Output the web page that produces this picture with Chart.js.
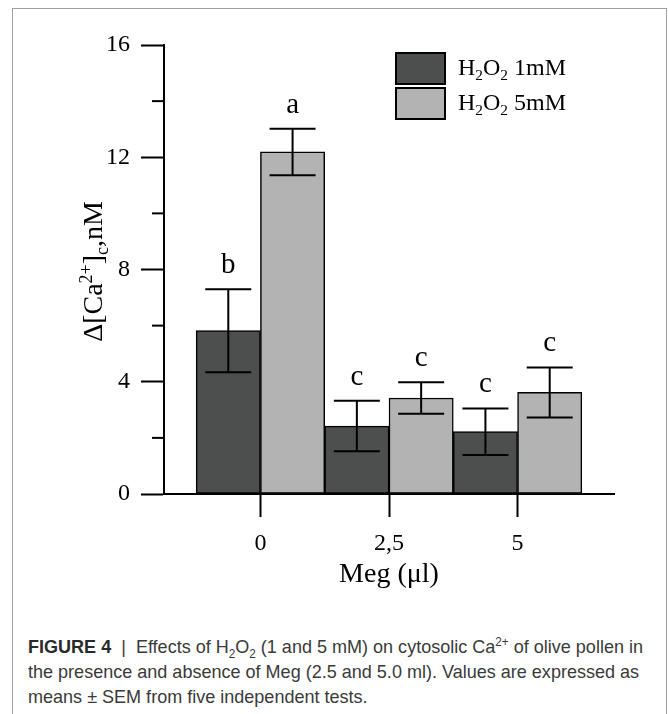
<!DOCTYPE html>
<html><head><meta charset="utf-8">
<script src="https://cdn.jsdelivr.net/npm/chart.js@4"></script>
<style>
html,body{margin:0;padding:0;background:#fff;width:669px;height:714px;overflow:hidden;}
#frame{position:absolute;left:12px;top:8px;width:653px;height:800px;border:1px solid #a0a0a0;border-bottom:none;}
#wrap{position:absolute;left:0;top:0;width:669px;height:620px;}
#cap{position:absolute;left:28px;top:634px;font-family:"Liberation Sans",Arial,sans-serif;font-size:18.5px;line-height:25px;color:#3a3a3a;white-space:nowrap;transform-origin:0 0;}
#cap b{color:#2a2a2a;}
#cap sub,#cap sup{font-size:65%;line-height:0;}
</style></head><body>
<div id="frame"></div>
<div id="wrap"><canvas id="c"></canvas></div>
<div id="cap"><span id="l1"><b>FIGURE 4</b> &nbsp;|&nbsp; Effects of H<sub>2</sub>O<sub>2</sub> (1 and 5 mM) on cytosolic Ca<sup>2+</sup> of olive pollen in</span><br>the presence and absence of Meg (2.5 and 5.0 ml). Values are expressed as<br>means ± SEM from five independent tests.</div>
<script>
const categories = ['0', '2,5', '5'];
const seriesNames = ['H_{2}O_{2} 1mM', 'H_{2}O_{2} 5mM'];
const h2o2_1mM = [5.82, 2.42, 2.22];
const h2o2_5mM = [12.19, 3.42, 3.62];
const sem_1mM = [1.48, 0.90, 0.83];
const sem_5mM = [0.83, 0.56, 0.89];
const letters_1mM = ['b', 'c', 'c'];
const letters_5mM = ['a', 'c', 'c'];
const yMajorTicks = [0, 4, 8, 12, 16];
const yMinorTicks = [2, 6, 10, 14];
const xTitle = 'Meg (\u03bcl)';
const yTitle = '\u0394[Ca^{2+}]_{c},nM';

const SERIF = '"Liberation Serif","Times New Roman",serif';
const colors = ['#4d4f4e', '#b3b3b3'];

// fit caption width to the reference line length (condensed look)
(function () {
  const cap = document.getElementById('cap');
  const w = document.getElementById('l1').getBoundingClientRect().width;
  cap.style.transform = 'scaleX(' + (615 / w) + ')';
})();

function parseRich(s) {
  const parts = []; const re = /(_|\^)\{([^}]*)\}/g; let last = 0, m;
  while ((m = re.exec(s))) {
    if (m.index > last) parts.push({ t: s.slice(last, m.index), k: 'n' });
    parts.push({ t: m[2], k: m[1] === '_' ? 'sub' : 'sup' });
    last = re.lastIndex;
  }
  if (last < s.length) parts.push({ t: s.slice(last), k: 'n' });
  return parts;
}
function drawRich(ctx, s, x, y, size, align) {
  const parts = parseRich(s);
  const fs = k => k === 'n' ? size : size * 0.64;
  let w = 0;
  parts.forEach(p => { ctx.font = fs(p.k) + 'px ' + SERIF; p.w = ctx.measureText(p.t).width; w += p.w; });
  let cx = align === 'center' ? x - w / 2 : x;
  ctx.textAlign = 'left'; ctx.textBaseline = 'alphabetic'; ctx.fillStyle = '#000';
  parts.forEach(p => {
    ctx.font = fs(p.k) + 'px ' + SERIF;
    const dy = p.k === 'sup' ? -size * 0.34 : p.k === 'sub' ? size * 0.22 : 0;
    ctx.fillText(p.t, cx, y + dy); cx += p.w;
  });
}

const decorations = {
  id: 'decorations',
  afterDatasetsDraw(chart) {
    const ctx = chart.ctx, ys = chart.scales.y;
    const vals = [h2o2_1mM, h2o2_5mM], sems = [sem_1mM, sem_5mM], lets = [letters_1mM, letters_5mM];
    ctx.save();
    ctx.strokeStyle = '#000'; ctx.lineWidth = 2;
    vals.forEach((arr, i) => {
      const meta = chart.getDatasetMeta(i);
      arr.forEach((v, j) => {
        const x = meta.data[j].x;
        const yt = ys.getPixelForValue(v + sems[i][j]);
        const yb = ys.getPixelForValue(v - sems[i][j]);
        ctx.beginPath();
        ctx.moveTo(x, yt); ctx.lineTo(x, yb);
        ctx.moveTo(x - 23, yt); ctx.lineTo(x + 23, yt);
        ctx.moveTo(x - 23, yb); ctx.lineTo(x + 23, yb);
        ctx.stroke();
        ctx.font = '29px ' + SERIF; ctx.fillStyle = '#000';
        ctx.textAlign = 'center'; ctx.textBaseline = 'alphabetic';
        ctx.fillText(lets[i][j], x, yt - 16);
      });
    });
    ctx.restore();
  },
  afterDraw(chart) {
    const ctx = chart.ctx, ys = chart.scales.y, ca = chart.chartArea;
    ctx.save();
    ctx.strokeStyle = '#000'; ctx.lineWidth = 2;
    yMinorTicks.forEach(v => {
      const y = ys.getPixelForValue(v);
      ctx.beginPath(); ctx.moveTo(ca.left - 12, y); ctx.lineTo(ca.left, y); ctx.stroke();
    });
    drawRich(ctx, xTitle, (ca.left + ca.right) / 2, 582, 28, 'center');
    ctx.save();
    ctx.translate(102, (ca.top + ca.bottom) / 2 + 2);
    ctx.rotate(-Math.PI / 2);
    drawRich(ctx, yTitle, 0, 0, 28, 'center');
    ctx.restore();
    const boxes = [[396, 53, 49, 31], [396, 88, 49, 31]];
    const baselines = [75, 110];
    seriesNames.forEach((n, i) => {
      const b = boxes[i];
      ctx.fillStyle = colors[i]; ctx.fillRect(b[0], b[1], b[2], b[3]);
      ctx.strokeStyle = '#000'; ctx.lineWidth = 2; ctx.strokeRect(b[0], b[1], b[2], b[3]);
      drawRich(ctx, n, 458, baselines[i], 24, 'left');
    });
    ctx.restore();
  }
};

new Chart(document.getElementById('c'), {
  type: 'bar',
  data: {
    datasets: [
      { label: seriesNames[0], data: categories.map((c, i) => ({ x: i, y: h2o2_1mM[i] })),
        backgroundColor: colors[0], borderColor: '#000', borderWidth: 1.5, borderSkipped: false },
      { label: seriesNames[1], data: categories.map((c, i) => ({ x: i, y: h2o2_5mM[i] })),
        backgroundColor: colors[1], borderColor: '#000', borderWidth: 1.5, borderSkipped: false }
    ]
  },
  options: {
    responsive: true, maintainAspectRatio: false, animation: false,
    layout: { padding: { left: 0, right: 55, top: 45, bottom: 0 } },
    plugins: { legend: { display: false }, tooltip: { enabled: false } },
    datasets: { bar: { barPercentage: 1, categoryPercentage: 1 } },
    scales: {
      x: {
        type: 'linear', min: -0.75, max: 2.75, offset: false,
        afterBuildTicks: s => { s.ticks = categories.map((_, i) => ({ value: i })); },
        afterFit: s => { s.height = 126; },
        grid: { display: true, drawOnChartArea: false, drawTicks: true, tickLength: 23, tickWidth: 2, tickColor: '#000', color: '#000', offset: false },
        border: { display: true, color: '#000', width: 2 },
        ticks: { font: { family: SERIF, size: 24 }, color: '#000', padding: 12, maxRotation: 0, autoSkip: false,
                 callback: v => categories[v] !== undefined ? categories[v] : '' }
      },
      y: {
        min: 0, max: 16,
        afterBuildTicks: s => { s.ticks = [...yMajorTicks, ...yMinorTicks].sort((a, b) => a - b).map(v => ({ value: v })); },
        afterFit: s => { s.width = 164; },
        grid: { display: true, drawOnChartArea: false, drawTicks: true, tickLength: 23, tickWidth: 2,
                tickColor: c => yMajorTicks.includes(c.tick.value) ? '#000' : 'rgba(0,0,0,0)', color: '#000' },
        border: { display: true, color: '#000', width: 2 },
        ticks: { font: { family: SERIF, size: 24 }, color: '#000', padding: 11, autoSkip: false,
                 callback: v => yMajorTicks.includes(v) ? String(v) : '' }
      }
    }
  },
  plugins: [decorations]
});
</script>
</body></html>
